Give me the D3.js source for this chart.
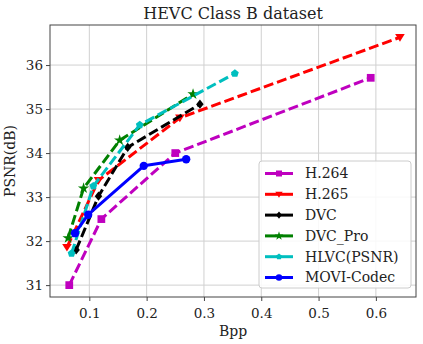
<!DOCTYPE html>
<html>
<head>
<meta charset="utf-8">
<script src="https://cdn.jsdelivr.net/npm/d3@7"></script>
<style>
  body { margin: 0; background: #fff; }
  text { font-family: "DejaVu Serif", serif; fill: #222; }
</style>
</head>
<body>
<div id="chart"></div>
<script>
// data (bpp, psnr)
var seriesNames = ["H.264", "H.265", "DVC", "DVC_Pro", "HLVC(PSNR)", "MOVI-Codec"];
var h264 = [[0.065, 31.0], [0.121, 32.5], [0.25, 34.0], [0.591, 35.71]];
var h265 = [[0.061, 31.86], [0.116, 33.38], [0.258, 34.8], [0.642, 36.63]];
var dvc = [[0.077, 31.8], [0.116, 33.02], [0.167, 34.13], [0.293, 35.11]];
var dvcPro = [[0.063, 32.07], [0.09, 33.2], [0.153, 34.29], [0.281, 35.34]];
var hlvc = [[0.069, 31.72], [0.107, 33.25], [0.188, 34.64], [0.354, 35.81]];
var movi = [[0.075, 32.18], [0.098, 32.6], [0.195, 33.71], [0.269, 33.86]];
var xTicks = [0.1, 0.2, 0.3, 0.4, 0.5, 0.6];
var yTicks = [31, 32, 33, 34, 35, 36];

var W = 423, H = 344;
var margin = {top: 25, right: 7, bottom: 47, left: 50};
var width = W - margin.left - margin.right,
  height = H - margin.top - margin.bottom;

var series = [
  {name: seriesNames[0], data: h264, color: "#bf00bf", sym: d3.symbolSquare, size: 60, dash: "10,4"},
  {name: seriesNames[1], data: h265, color: "#ff0000", sym: "tri", size: 60, dash: "10,4"},
  {name: seriesNames[2], data: dvc, color: "#000000", sym: "diamond", size: 60, dash: "10,4"},
  {name: seriesNames[3], data: dvcPro, color: "#008000", sym: d3.symbolStar, size: 40, dash: "10,4"},
  {name: seriesNames[4], data: hlvc, color: "#00bfbf", sym: "penta", size: 55, dash: "10,4"},
  {name: seriesNames[5], data: movi, color: "#0000ff", sym: d3.symbolCircle, size: 55, dash: null}
];

var svg = d3.select("#chart").append("svg")
  .attr("width", W).attr("height", H);
var g = svg.append("g")
  .attr("transform", "translate(" + margin.left + "," + margin.top + ")");

var x = d3.scaleLinear().domain([0.0314, 0.67]).range([0, width]);
var y = d3.scaleLinear().domain([30.73, 36.91]).range([height, 0]);

// grid
g.append("g").selectAll("line").data(xTicks).enter().append("line")
  .attr("x1", function (d) { return x(d); }).attr("x2", function (d) { return x(d); })
  .attr("y1", 0).attr("y2", height)
  .attr("stroke", "#d0d0d0").attr("stroke-width", 1);
g.append("g").selectAll("line").data(yTicks).enter().append("line")
  .attr("y1", function (d) { return y(d); }).attr("y2", function (d) { return y(d); })
  .attr("x1", 0).attr("x2", width)
  .attr("stroke", "#d0d0d0").attr("stroke-width", 1);

// axes
var xAxis = g.append("g")
  .attr("transform", "translate(0," + height + ")")
  .call(d3.axisBottom(x).tickValues(xTicks).tickFormat(d3.format(".1f")).tickSize(4).tickSizeOuter(0));
var yAxis = g.append("g")
  .call(d3.axisLeft(y).tickValues(yTicks).tickFormat(d3.format("d")).tickSize(4).tickSizeOuter(0));
[xAxis, yAxis].forEach(function (a) {
  a.select(".domain").remove();
  a.selectAll("line").attr("stroke", "#444");
  a.selectAll("text").style("font-family", "DejaVu Serif").style("font-size", "13.5px").attr("fill", "#222");
});
xAxis.selectAll("text").attr("dy", "1.0em");

g.append("rect")
  .attr("width", width).attr("height", height)
  .attr("fill", "none").attr("stroke", "#444").attr("stroke-width", 1);

function markerPath(s, size) {
  if (s === "tri") {
    var r = Math.sqrt(size) * 0.62;
    return "M" + (-r) + "," + (-r * 0.7) + "L" + r + "," + (-r * 0.7) + "L0," + (r * 0.9) + "Z";
  }
  if (s === "diamond") {
    var q = Math.sqrt(size) * 0.6;
    return "M0," + (-q) + "L" + (q * 0.8) + ",0L0," + q + "L" + (-q * 0.8) + ",0Z";
  }
  if (s === "penta") {
    var rr = Math.sqrt(size) * 0.55, pts = [];
    for (var k = 0; k < 5; k++) {
      var a = -Math.PI / 2 + k * 2 * Math.PI / 5;
      pts.push([rr * Math.cos(a), rr * Math.sin(a)]);
    }
    return "M" + pts.join("L") + "Z";
  }
  return d3.symbol().type(s).size(size)();
}

var line = d3.line()
  .x(function (d) { return x(d[0]); })
  .y(function (d) { return y(d[1]); });

series.forEach(function (s) {
  g.append("path")
    .datum(s.data)
    .attr("d", line)
    .attr("fill", "none")
    .attr("stroke", s.color)
    .attr("stroke-width", 3)
    .attr("stroke-dasharray", s.dash)
    .attr("stroke-linejoin", "round");
  g.selectAll(null).data(s.data).enter().append("path")
    .attr("transform", function (d) { return "translate(" + x(d[0]) + "," + y(d[1]) + ")"; })
    .attr("d", markerPath(s.sym, s.size))
    .attr("fill", s.color);
});

// legend
var lg = svg.append("g").attr("transform", "translate(259,161)");
lg.append("rect")
  .attr("width", 152).attr("height", 127)
  .attr("rx", 3)
  .attr("fill", "#fff").attr("fill-opacity", 0.85)
  .attr("stroke", "#ccc");
series.forEach(function (s, i) {
  var yy = 12.5 + i * 20.8;
  lg.append("line")
    .attr("x1", 6).attr("x2", 34).attr("y1", yy).attr("y2", yy)
    .attr("stroke", s.color).attr("stroke-width", 3);
  lg.append("path")
    .attr("transform", "translate(20," + yy + ")")
    .attr("d", markerPath(s.sym, s.size * 0.6))
    .attr("fill", s.color);
  lg.append("text")
    .attr("x", 46).attr("y", yy).attr("dy", "0.35em")
    .style("font-size", "14px")
    .text(s.name);
});

// titles
svg.append("text")
  .attr("x", margin.left + width / 2).attr("y", 19)
  .attr("text-anchor", "middle")
  .style("font-size", "16px")
  .text("HEVC Class B dataset");
svg.append("text")
  .attr("x", margin.left + width / 2).attr("y", 336)
  .attr("text-anchor", "middle")
  .style("font-size", "14px")
  .text("Bpp");
svg.append("text")
  .attr("transform", "translate(15," + (margin.top + height / 2) + ") rotate(-90)")
  .attr("text-anchor", "middle")
  .style("font-size", "14px")
  .text("PSNR(dB)");
</script>
</body>
</html>
